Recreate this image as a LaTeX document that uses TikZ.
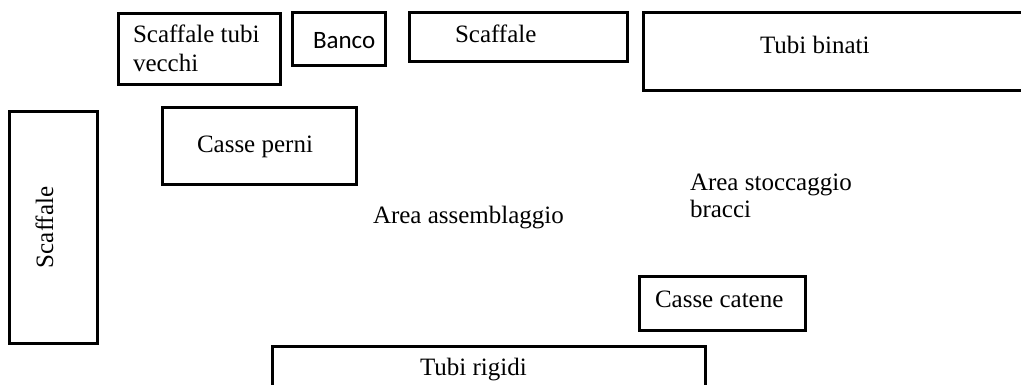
\documentclass[tikz,border=0pt]{standalone}
\usepackage{fontspec}
\setmainfont{Liberation Serif}
\newfontfamily\labelsans{Carlito}
\begin{document}
\begin{tikzpicture}[x=1pt,y=-1pt,
  box/.style={draw=black,line width=3pt,rectangle,inner sep=0pt,outer sep=0pt,anchor=north west},
  lbl/.style={inner sep=0pt,outer sep=0pt,anchor=base west,font=\fontsize{25}{29}\selectfont},
  lblsans/.style={lbl,font=\labelsans\fontsize{25}{29}\selectfont}]
  \useasboundingbox (0,0) rectangle (1021,385);
  % storage units and work areas
  \node[box,minimum width=162pt,minimum height=71pt] (stv) at (118.5,13.5) {};
  \node[box,minimum width=93.5pt,minimum height=53.5pt] (banco) at (292,12.5) {};
  \node[box,minimum width=218pt,minimum height=49pt] (scafftop) at (409.5,13) {};
  \node[box,minimum width=400pt,minimum height=78pt] (binati) at (643.5,13) {};
  \node[box,minimum width=88pt,minimum height=232pt] (scaffleft) at (9.5,111.5) {};
  \node[box,minimum width=194pt,minimum height=77pt] (perni) at (162.5,107.5) {};
  \node[box,minimum width=166pt,minimum height=54pt] (catene) at (639.5,276.5) {};
  \node[box,minimum width=433pt,minimum height=60pt] (rigidi) at (272.5,346.5) {};
  % labels
  \node[lbl] (tstv1) at (133,43) {Scaffale tubi};
  \node[lbl] (tstv2) at (133,72) {vecchi};
  \node[lblsans] (tbanco) at (313,49) {Banco};
  \node[lbl] (tscafftop) at (455,43) {Scaffale};
  \node[lbl] (tbinati) at (760,54) {Tubi binati};
  \node[lbl,rotate=90] (tscaffleft) at (53,268) {Scaffale};
  \node[lbl] (tperni) at (197,153) {Casse perni};
  \node[lbl] (tassembl) at (373,224) {Area assemblaggio};
  \node[lbl] (tstocc1) at (690,191) {Area stoccaggio};
  \node[lbl] (tstocc2) at (690,218) {bracci};
  \node[lbl] (tcatene) at (655,307) {Casse catene};
  \node[lbl] (trigidi) at (420,375) {Tubi rigidi};
\end{tikzpicture}
\end{document}
